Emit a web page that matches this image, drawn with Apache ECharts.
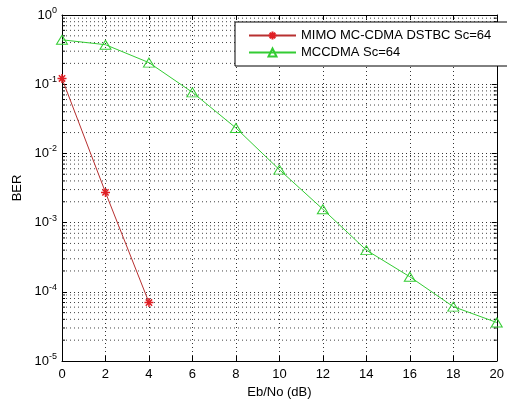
<!DOCTYPE html>
<html>
<head>
<meta charset="utf-8">
<script src="https://cdn.jsdelivr.net/npm/echarts@6/dist/echarts.min.js"></script>
<style>
  html, body { margin: 0; padding: 0; background: #fff; }
  #chart { width: 507px; height: 404px; }
</style>
</head>
<body>
<div id="chart"></div>
<script>
// Eb/No points (dB)
const ebNo = [0, 2, 4, 6, 8, 10, 12, 14, 16, 18, 20];
// BER values
const berMimo = [0.121, 0.00273, 0.00007];
const berMccdma = [0.438, 0.372, 0.205, 0.0763, 0.0233, 0.00582, 0.00156, 0.00040, 0.000165, 0.000061, 0.000036];
const seriesNames = ["MIMO MC-CDMA DSTBC Sc=64", "MCCDMA Sc=64"];
// minor log grid lines (2..9 x 10^k)
const minorMant = [2, 3, 4, 5, 6, 7, 8, 9];
const decades = [-5, -4, -3, -2, -1];

let minorValues = [];
for (let i = 0; i < decades.length; i++) {
    for (let j = 0; j < minorMant.length; j++) {
        minorValues.push(minorMant[j] * Math.pow(10, decades[i]));
    }
}

const font = "'Liberation Sans', Arial, sans-serif";
const chart = echarts.init(document.getElementById("chart"));

const supLabel = v => {
    let e = Math.round(Math.log10(v));
    return "{b|10}{s|" + e + "}";
};

// minor grid line + small inside ticks on both sides
const renderMinor = (params, api) => {
    let v = api.value(0);
    let p0 = api.coord([0, v]);
    let p1 = api.coord([20, v]);
    return {
        type: "group",
        children: [{
            type: "line",
            shape: { x1: p0[0], y1: p0[1], x2: p1[0], y2: p1[1] },
            style: { stroke: "#444", lineWidth: 1, lineDash: [1, 3] }
        }, {
            type: "line",
            shape: { x1: p0[0], y1: p0[1], x2: p0[0] + 3, y2: p0[1] },
            style: { stroke: "#000", lineWidth: 1 }
        }, {
            type: "line",
            shape: { x1: p1[0] - 3, y1: p1[1], x2: p1[0], y2: p1[1] },
            style: { stroke: "#000", lineWidth: 1 }
        }]
    };
};

const option = {
    animation: false,
    backgroundColor: "#fff",
    grid: { left: 62, right: 4, top: 15, bottom: 40 },
    legend: {
        left: 235,
        top: 22,
        orient: "vertical",
        backgroundColor: "#fff",
        borderColor: "#000",
        borderWidth: 1,
        padding: [7, 19, 7, 13],
        itemGap: 4,
        itemWidth: 47,
        itemHeight: 10,
        textStyle: { fontFamily: font, fontSize: 13, color: "#000" },
        data: seriesNames
    },
    xAxis: [{
        type: "value",
        min: 0,
        max: 20,
        interval: 2,
        name: "Eb/No (dB)",
        nameLocation: "middle",
        nameGap: 25,
        nameTextStyle: { fontFamily: font, fontSize: 13, color: "#000" },
        axisLine: { lineStyle: { color: "#000" } },
        axisTick: { inside: true, length: 5, lineStyle: { color: "#000" } },
        axisLabel: { fontFamily: font, fontSize: 13, color: "#000", margin: 7 },
        splitLine: { show: true, lineStyle: { color: "#333", type: [1, 3] } }
    }, {
        type: "value",
        position: "top",
        min: 0,
        max: 20,
        interval: 2,
        axisLine: { onZero: false, lineStyle: { color: "#000" } },
        axisTick: { inside: true, length: 5, lineStyle: { color: "#000" } },
        axisLabel: { show: false },
        splitLine: { show: false }
    }],
    yAxis: [{
        type: "log",
        min: 1e-5,
        max: 1,
        logBase: 10,
        name: "BER",
        nameLocation: "middle",
        nameGap: 36,
        nameTextStyle: { fontFamily: font, fontSize: 13, color: "#000" },
        axisLine: { show: true, lineStyle: { color: "#000" } },
        axisTick: { inside: true, length: 5, lineStyle: { color: "#000" } },
        axisLabel: {
            margin: 5,
            formatter: supLabel,
            rich: {
                b: { fontFamily: font, fontSize: 13, color: "#000" },
                s: { fontFamily: font, fontSize: 9, color: "#000", verticalAlign: "bottom", padding: [0, 0, 9, 0] }
            }
        },
        splitLine: { show: true, lineStyle: { color: "#333", type: [1, 3] } }
    }, {
        type: "log",
        position: "right",
        min: 1e-5,
        max: 1,
        logBase: 10,
        axisLine: { show: true, onZero: false, lineStyle: { color: "#000" } },
        axisTick: { inside: true, length: 5, lineStyle: { color: "#000" } },
        axisLabel: { show: false },
        splitLine: { show: false }
    }],
    series: [{
        type: "custom",
        silent: true,
        renderItem: renderMinor,
        encode: { y: 0 },
        data: minorValues.map(v => [v]),
        z: 1
    }, {
        name: seriesNames[0],
        type: "line",
        data: berMimo.map((v, i) => [ebNo[i], v]),
        color: "#d42a2a",
        symbol: "path://M0,-5L0,5M-5,0L5,0M-3.5,-3.5L3.5,3.5M-3.5,3.5L3.5,-3.5",
        symbolSize: 9,
        itemStyle: { color: "#e01f25", borderColor: "#e01f25", borderWidth: 1.5 },
        lineStyle: { color: "#b83030", width: 1 },
        z: 3
    }, {
        name: seriesNames[1],
        type: "line",
        data: berMccdma.map((v, i) => [ebNo[i], v]),
        color: "#33cc33",
        symbol: "triangle",
        symbolSize: [11, 9],
        itemStyle: { color: "rgba(255,255,255,0)", borderColor: "#33cc33", borderWidth: 1 },
        lineStyle: { color: "#33cc33", width: 1 },
        z: 2
    }]
};

chart.setOption(option);
</script>
</body>
</html>
